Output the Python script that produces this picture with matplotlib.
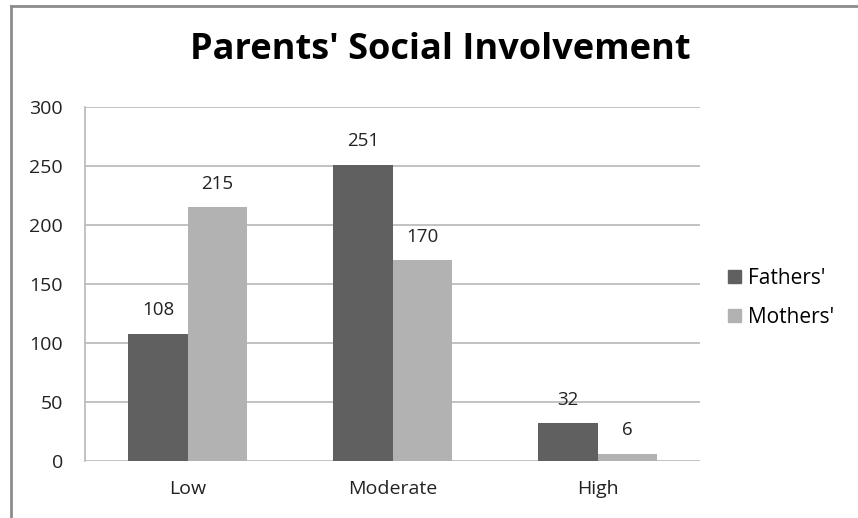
import matplotlib
matplotlib.use("Agg")
import matplotlib.pyplot as plt
from matplotlib.lines import Line2D
import numpy as np

categories = ["Low", "Moderate", "High"]
fathers = [108, 251, 32]
mothers = [215, 170, 6]
series_names = ["Fathers'", "Mothers'"]
y_ticks = [0, 50, 100, 150, 200, 250, 300]

plt.rcParams['font.family'] = ['Open Sans', 'DejaVu Sans']

W, H = 858, 518
fig = plt.figure(figsize=(W / 100, H / 100), dpi=100)
fig.patch.set_facecolor("white")

# plot area in pixel coordinates
left, right, top, bottom = 85, 700, 107, 461
ax = fig.add_axes([left / W, 1 - bottom / H, (right - left) / W, (bottom - top) / H])

x = np.arange(len(categories))
bw = 0.288
c_f, c_m = "#606060", "#b2b2b2"
ax.bar(x - bw / 2, fathers, bw, color=c_f, zorder=3, label=series_names[0])
ax.bar(x + bw / 2, mothers, bw, color=c_m, zorder=3, label=series_names[1])

txt = "#222222"
for xi, v in zip(x - bw / 2, fathers):
    ax.text(xi, v + 20, str(v), ha="center", va="center", fontsize=13.5, color=txt)
for xi, v in zip(x + bw / 2, mothers):
    ax.text(xi, v + 20, str(v), ha="center", va="center", fontsize=13.5, color=txt)

ax.set_xlim(-0.5, len(categories) - 0.5)
ax.set_ylim(0, 300)
ax.set_yticks(y_ticks)
ax.set_xticks(x)
ax.set_xticklabels(categories)
ax.tick_params(axis="both", length=0, labelsize=14, colors=txt)
ax.tick_params(axis="y", pad=16)
ax.tick_params(axis="x", pad=14)
ax.grid(axis="y", color="#b8b8b8", linewidth=1.2, zorder=0)
for s in ["top", "right", "bottom"]:
    ax.spines[s].set_visible(False)
ax.spines["left"].set_color("#b8b8b8")
ax.spines["left"].set_linewidth(1.2)

fig.text(440 / W, 1 - 50 / H, "Parents' Social Involvement", ha="center", va="center",
         fontsize=26, fontweight="bold", color="black")

handles = [plt.Rectangle((0, 0), 1, 1, color=c_f), plt.Rectangle((0, 0), 1, 1, color=c_m)]
fig.legend(handles, series_names, loc="center left", bbox_to_anchor=(728 / W, 1 - 298 / H),
           frameon=False, fontsize=15, handlelength=0.6, handleheight=0.6,
           handletextpad=0.35, labelspacing=0.85, borderaxespad=0, borderpad=0)

# outer frame (top and left edges)
fig.add_artist(Line2D([11 / W, 1], [1 - 5.5 / H, 1 - 5.5 / H], transform=fig.transFigure,
                      color="#8c8c8c", linewidth=2))
fig.add_artist(Line2D([11 / W, 11 / W], [0, 1 - 5.5 / H], transform=fig.transFigure,
                      color="#8c8c8c", linewidth=2))

fig.savefig("out.png", dpi=100)
